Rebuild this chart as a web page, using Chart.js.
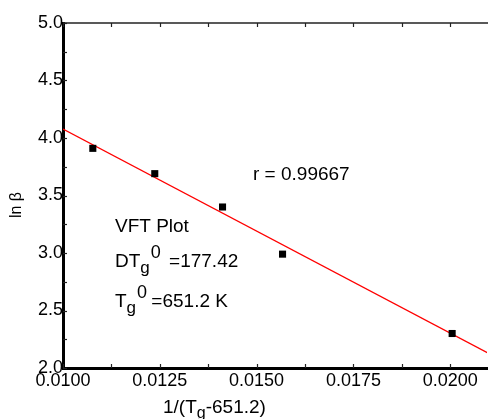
<!DOCTYPE html>
<html>
<head>
<meta charset="utf-8">
<script src="https://cdn.jsdelivr.net/npm/chart.js@4.4.1/dist/chart.umd.min.js"></script>
<style>
  html, body { margin: 0; padding: 0; background: #fff; overflow: hidden; }
  #wrap { width: 488px; height: 419px; position: relative; overflow: hidden; }
</style>
</head>
<body>
<div id="wrap"><canvas id="c" width="492" height="419"></canvas></div>
<script>
// ---- data ----
const invT = [0.01077, 0.01237, 0.01412, 0.01567, 0.02005];   // 1/(Tg-651.2)
const lnBeta = [3.91, 3.69, 3.40, 2.99, 2.30];                 // ln beta
const fitX = [0.0100, 0.0210];                                 // fitted line endpoints
const fitY = [4.078, 2.126];
const xTicks = [0.0100, 0.0125, 0.0150, 0.0175, 0.0200];
const yTicks = [2.0, 2.5, 3.0, 3.5, 4.0, 4.5, 5.0];

const FONT = '"Liberation Sans", Arial, sans-serif';

function drawRich(ctx, x, y, segs) {
  let cx = x;
  for (const s of segs) {
    const size = s.size || 19;
    ctx.font = size + 'px ' + FONT;
    const dy = s.dy || 0;
    cx += (s.dx || 0);
    ctx.fillText(s.t, cx, y + dy);
    cx += ctx.measureText(s.t).width;
  }
}

const decor = {
  id: 'decor',
  afterDraw(chart) {
    const ctx = chart.ctx;
    const a = chart.chartArea;
    const xs = chart.scales.x, ys = chart.scales.y;
    ctx.save();
    // top frame line
    ctx.strokeStyle = '#222';
    ctx.lineWidth = 1.5;
    ctx.beginPath();
    ctx.moveTo(a.left, a.top);
    ctx.lineTo(a.right + 4, a.top);
    ctx.stroke();
    // inward ticks
    ctx.lineWidth = 1.2;
    ctx.strokeStyle = '#222';
    const yMin = yTicks[0], yMax = yTicks[yTicks.length - 1];
    const yStep = (yTicks[1] - yTicks[0]) / 2;
    for (let v = yMin; v <= yMax + 1e-9; v += yStep) {
      const p = Math.round(ys.getPixelForValue(v)) + 0.5;
      ctx.beginPath(); ctx.moveTo(a.left, p); ctx.lineTo(a.left + 4, p); ctx.stroke();
    }
    const xStep = (xTicks[1] - xTicks[0]) / 2;
    for (let v = xTicks[0]; v <= xs.max + 1e-9; v += xStep) {
      const p = Math.round(xs.getPixelForValue(v)) + 0.5;
      ctx.beginPath(); ctx.moveTo(p, a.bottom); ctx.lineTo(p, a.bottom - 4); ctx.stroke();
      ctx.beginPath(); ctx.moveTo(p, a.top); ctx.lineTo(p, a.top + 4); ctx.stroke();
    }
    // texts
    ctx.fillStyle = '#000';
    ctx.textAlign = 'left';
    ctx.textBaseline = 'alphabetic';
    drawRich(ctx, 253, 180, [{t: 'r = 0.99667'}]);
    drawRich(ctx, 115, 232, [{t: 'VFT Plot'}]);
    drawRich(ctx, 115, 267, [
      {t: 'DT'}, {t: 'g', size: 17, dy: 6}, {t: '0', size: 18, dy: -9, dx: 1}, {t: ' =177.42', dx: 3}
    ]);
    drawRich(ctx, 115, 307, [
      {t: 'T'}, {t: 'g', size: 17, dy: 6}, {t: '0', size: 18, dy: -9, dx: 1}, {t: ' =651.2 K', dx: -1}
    ]);
    // x axis title
    drawRich(ctx, 163, 413, [
      {t: '1/(T', size: 19}, {t: 'g', size: 16, dy: 5}, {t: '-651.2)', size: 19}
    ]);
    // y axis title
    ctx.save();
    ctx.translate(21, 205);
    ctx.rotate(-Math.PI / 2);
    ctx.textAlign = 'center';
    ctx.font = '16px ' + FONT;
    ctx.fillText('ln \u03B2', 0, 0);
    ctx.restore();
    ctx.restore();
  }
};

new Chart(document.getElementById('c'), {
  type: 'scatter',
  data: {
    datasets: [
      {
        type: 'line',
        data: fitX.map((x, i) => ({x: x, y: fitY[i]})),
        borderColor: '#ff0000',
        borderWidth: 1.3,
        pointRadius: 0,
        fill: false,
        order: 2
      },
      {
        data: invT.map((x, i) => ({x: x, y: lnBeta[i]})),
        pointStyle: 'rect',
        pointRadius: 5,
        backgroundColor: '#000',
        borderColor: '#000',
        borderWidth: 0,
        order: 1
      }
    ]
  },
  options: {
    responsive: false,
    animation: false,
    devicePixelRatio: 1,
    layout: { padding: { top: 23, right: 0, left: 0, bottom: 0 } },
    plugins: { legend: { display: false }, tooltip: { enabled: false } },
    scales: {
      x: {
        type: 'linear',
        min: xTicks[0],
        max: 0.02095,
        afterFit(s) { s.height = 51; },
        afterBuildTicks(s) { s.ticks = xTicks.map(v => ({value: v})); },
        grid: { display: true, drawOnChartArea: false, drawTicks: false },
        border: { display: true, color: '#000', width: 3 },
        ticks: {
          padding: 2,
          maxRotation: 0,
          autoSkip: false,
          color: '#000',
          font: { family: FONT, size: 18 },
          callback: v => Number(v).toFixed(4)
        },
        title: { display: false }
      },
      y: {
        type: 'linear',
        min: yTicks[0],
        max: yTicks[yTicks.length - 1],
        afterFit(s) { s.width = 63; },
        afterBuildTicks(s) { s.ticks = yTicks.map(v => ({value: v})); },
        grid: { display: true, drawOnChartArea: false, drawTicks: false },
        border: { display: true, color: '#000', width: 3 },
        ticks: {
          padding: 0,
          autoSkip: false,
          color: '#000',
          font: { family: FONT, size: 18 },
          callback: v => Number(v).toFixed(1)
        },
        title: { display: false }
      }
    }
  },
  plugins: [decor]
});
</script>
</body>
</html>
